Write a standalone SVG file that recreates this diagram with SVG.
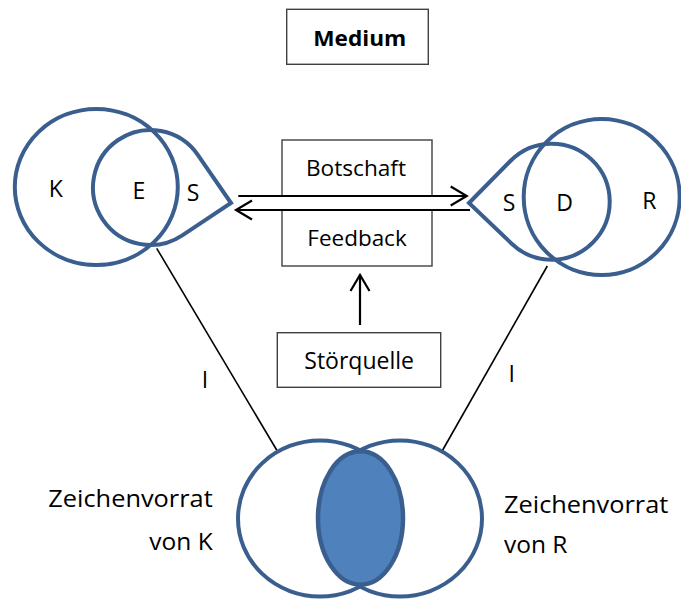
<svg xmlns="http://www.w3.org/2000/svg" width="681" height="601" viewBox="0 0 681 601">
<style>
.bg{fill:#ffffff}
.sh{fill:none;stroke:#3A5F8F;stroke-width:4}
.box{fill:#ffffff;stroke:#404040;stroke-width:1.4}
.t{font-family:"Open Sans","Noto Sans","Liberation Sans",sans-serif;fill:#000000}
.c{text-anchor:middle}
.ln{stroke:#000000;stroke-width:1.6;fill:none}
.ar{stroke:#000000;stroke-width:2.2;fill:none}
</style>
<defs>
<marker id="head" markerUnits="userSpaceOnUse" markerWidth="24" markerHeight="24" viewBox="-18 -12 20 24" refX="0" refY="0" orient="auto">
<path d="M-16 -9.5 L0 0 L-16 9.5" fill="none" stroke="#000000" stroke-width="2.2"/>
</marker>
</defs>
<rect class="bg" x="0" y="0" width="681" height="601"/>

<g id="medium">
<rect class="box" x="286.7" y="9.3" width="141.6" height="55"/>
<text class="t" x="313.3" y="46" font-size="22" font-weight="bold" textLength="93" lengthAdjust="spacingAndGlyphs">Medium</text>
</g>

<g id="kommunikator">
<ellipse class="sh" cx="96.3" cy="187" rx="81.5" ry="78"/>
<path class="sh" d="M231 203 L197.8 154.8 A57.5 57.5 0 1 0 182.3 235.4 Z"/>
<text class="t c" x="55.8" y="197.3" font-size="23">K</text>
<text class="t c" x="139" y="199" font-size="23">E</text>
<text class="t c" x="193" y="201" font-size="23">S</text>
</g>

<g id="rezipient">
<circle class="sh" cx="601.7" cy="197" r="78"/>
<path class="sh" d="M469 203 L510.4 161 A58 58 0 1 1 511.7 243.7 Z"/>
<text class="t c" x="509" y="211" font-size="23">S</text>
<text class="t c" x="564.7" y="211" font-size="23">D</text>
<text class="t c" x="649.3" y="209" font-size="23">R</text>
</g>

<g id="botschaft">
<rect class="box" x="282" y="140" width="150" height="56"/>
<text class="t" x="306" y="176" font-size="22.5" textLength="100" lengthAdjust="spacingAndGlyphs">Botschaft</text>
</g>

<g id="feedback">
<rect class="box" x="282" y="210" width="150" height="56"/>
<text class="t" x="307.3" y="246" font-size="22.5" textLength="99.4" lengthAdjust="spacingAndGlyphs">Feedback</text>
</g>

<g id="stoerquelle">
<rect class="box" x="277.3" y="332.7" width="163.4" height="54.6"/>
<text class="t" x="304.3" y="369" font-size="23" textLength="109.7" lengthAdjust="spacingAndGlyphs">Störquelle</text>
</g>

<g id="zeichenvorrat">
<ellipse class="sh" cx="320" cy="518.5" rx="82" ry="78"/>
<ellipse class="sh" cx="400" cy="518.5" rx="82" ry="78"/>
<ellipse cx="360.5" cy="518" rx="42.5" ry="66.7" fill="#4F81BD" stroke="#3A5F8F" stroke-width="4.5"/>
</g>

<g id="label-k">
<text class="t" x="48.3" y="507" font-size="24.5" textLength="164.4" lengthAdjust="spacingAndGlyphs">Zeichenvorrat</text>
<text class="t" x="212.7" y="550" font-size="24.5" text-anchor="end">von K</text>
</g>

<g id="label-r">
<text class="t" x="504" y="512.7" font-size="24.5" textLength="164.3" lengthAdjust="spacingAndGlyphs">Zeichenvorrat</text>
<text class="t" x="504" y="552.7" font-size="24.5">von R</text>
</g>

<g id="connectors">
<line class="ar" x1="238.3" y1="196" x2="466.7" y2="196" marker-end="url(#head)"/>
<line class="ar" x1="470" y1="210" x2="236" y2="210" marker-end="url(#head)"/>
<line class="ar" x1="360" y1="325" x2="360" y2="275" marker-end="url(#head)"/>
<line class="ln" x1="156.7" y1="248.3" x2="276.7" y2="450"/>
<line class="ln" x1="547.3" y1="266" x2="442.7" y2="450"/>
<text class="t c" x="205" y="388" font-size="23">I</text>
<text class="t c" x="511.7" y="381.7" font-size="23">I</text>
</g>
</svg>
